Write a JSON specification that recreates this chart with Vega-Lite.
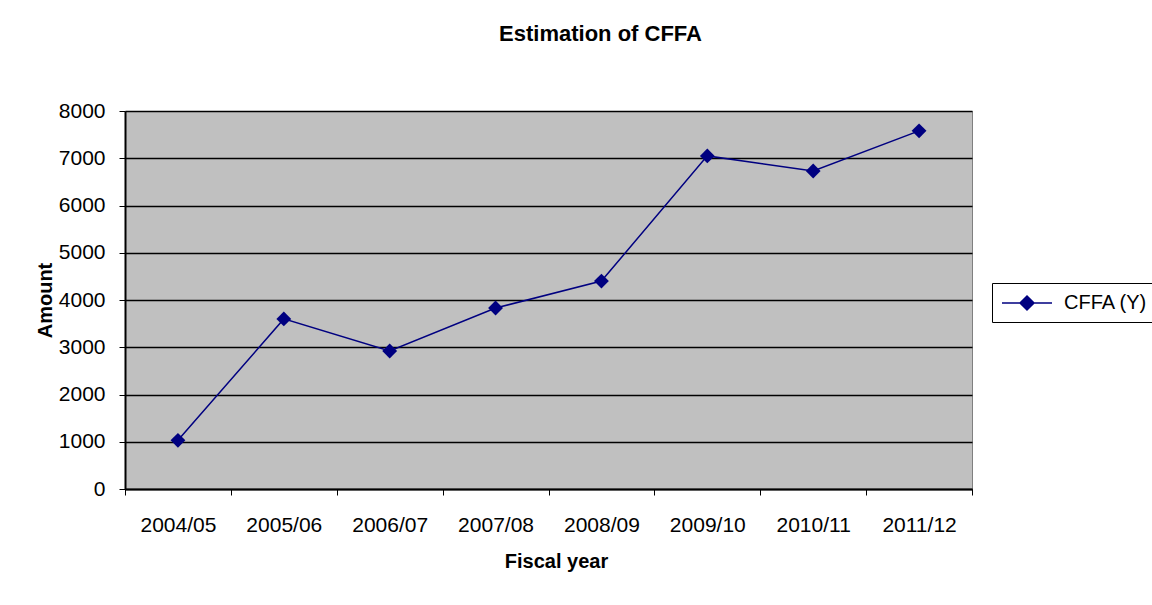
{
  "$schema": "https://vega.github.io/schema/vega-lite/v6.json",
  "autosize": "none",
  "width": 847,
  "height": 378,
  "padding": {"left": 125, "top": 111, "right": 180, "bottom": 116},
  "background": "white",
  "config": {
    "font": "Liberation Sans",
    "view": {"stroke": "#808080", "strokeWidth": 1, "fill": "#C0C0C0"}
  },
  "title": {
    "text": "Estimation of CFFA",
    "font": "Liberation Sans",
    "fontSize": 22,
    "fontWeight": "bold",
    "color": "black",
    "anchor": "middle",
    "dx": 52,
    "offset": 54
  },
  "data": {
    "values": [
      {"year": "2004/05", "value": 1030, "series": "CFFA (Y)"},
      {"year": "2005/06", "value": 3600, "series": "CFFA (Y)"},
      {"year": "2006/07", "value": 2920, "series": "CFFA (Y)"},
      {"year": "2007/08", "value": 3830, "series": "CFFA (Y)"},
      {"year": "2008/09", "value": 4400, "series": "CFFA (Y)"},
      {"year": "2009/10", "value": 7050, "series": "CFFA (Y)"},
      {"year": "2010/11", "value": 6730, "series": "CFFA (Y)"},
      {"year": "2011/12", "value": 7580, "series": "CFFA (Y)"}
    ]
  },
  "mark": {
    "type": "line",
    "strokeWidth": 1.5,
    "point": {"shape": "diamond", "size": 220, "filled": true, "opacity": 1}
  },
  "encoding": {
    "x": {
      "field": "year",
      "type": "ordinal",
      "scale": {"type": "band", "paddingInner": 0, "paddingOuter": 0},
      "axis": {
        "title": "Fiscal year",
        "titleFont": "Liberation Sans",
        "titleFontSize": 20,
        "titleFontWeight": "bold",
        "titleColor": "black",
        "titlePadding": 16,
        "titleX": 431,
        "labelAngle": 0,
        "labelFont": "Liberation Sans",
        "labelFontSize": 21,
        "labelColor": "black",
        "labelPadding": 19,
        "tickBand": "extent",
        "tickSize": 6,
        "tickColor": "black",
        "tickWidth": 1,
        "domainColor": "black",
        "domainWidth": 2,
        "grid": false
      }
    },
    "y": {
      "field": "value",
      "type": "quantitative",
      "scale": {"domain": [0, 8000], "nice": false},
      "axis": {
        "title": "Amount",
        "titleFont": "Liberation Sans",
        "titleFontSize": 20,
        "titleFontWeight": "bold",
        "titleColor": "black",
        "titlePadding": 3,
        "values": [0, 1000, 2000, 3000, 4000, 5000, 6000, 7000, 8000],
        "format": "d",
        "labelFont": "Liberation Sans",
        "labelFontSize": 21,
        "labelColor": "black",
        "labelPadding": 14,
        "tickSize": 6,
        "tickColor": "black",
        "domainColor": "black",
        "domainWidth": 2,
        "grid": true,
        "gridColor": "black",
        "gridWidth": 1.5,
        "gridOpacity": 1
      }
    },
    "color": {
      "field": "series",
      "type": "nominal",
      "scale": {"range": ["#000080"]},
      "legend": {
        "title": null,
        "orient": "none",
        "legendX": 867,
        "legendY": 172,
        "strokeColor": "black",
        "fillColor": "white",
        "padding": 9,
        "labelFont": "Liberation Sans",
        "labelFontSize": 20,
        "labelColor": "black",
        "symbolType": "M-1,0L4,0M1.5,-0.7L2.2,0L1.5,0.7L0.8,0Z",
        "symbolSize": 400,
        "symbolStrokeWidth": 1.5,
        "symbolFillColor": "#000080",
        "symbolStrokeColor": "#000080",
        "labelOffset": 41
      }
    }
  }
}
